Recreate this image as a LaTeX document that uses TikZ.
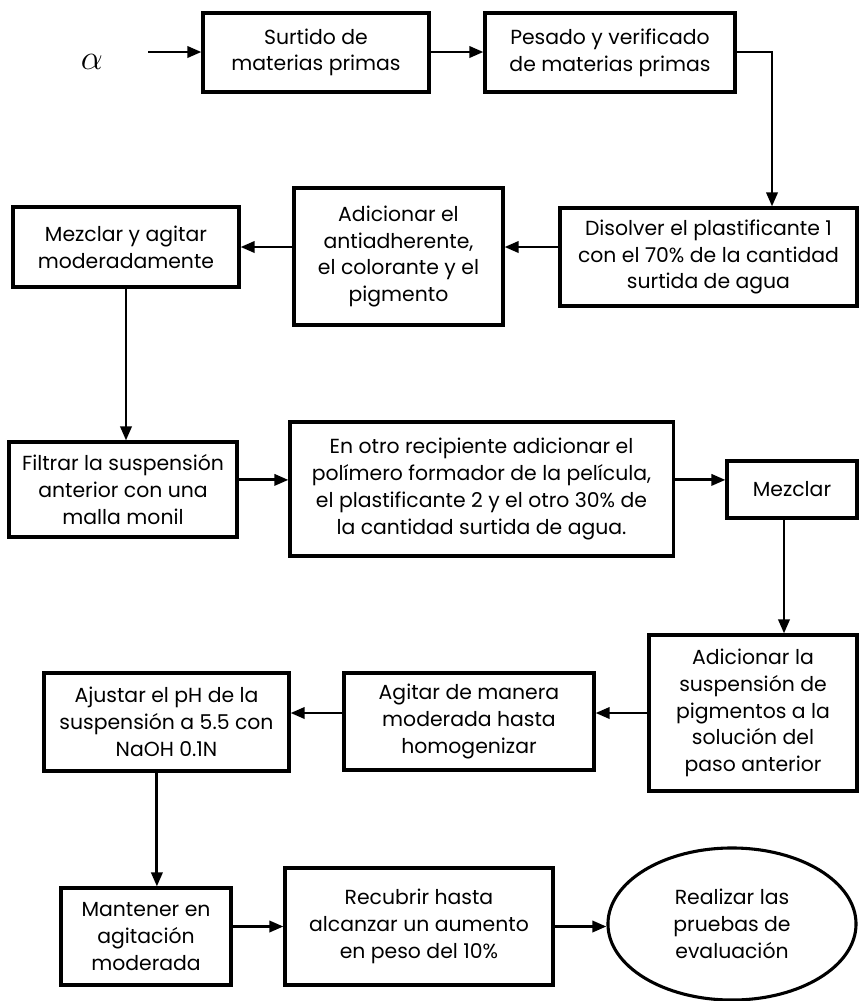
\documentclass[tikz,border=0pt]{standalone}
\usepackage{fontspec}
\setmainfont{Poppins}
\usetikzlibrary{arrows.meta,shapes.geometric}

\begin{document}
\begin{tikzpicture}[x=0.025cm,y=-0.025cm,
    box/.style={draw, line width=2.2pt, inner sep=0pt, align=center},
    flow/.style={-{Triangle[length=10pt,width=8pt]}, line width=2pt},
    font=\fontsize{14.5}{19}\selectfont]
            \useasboundingbox (0,0) rectangle (858,1001);
            % fila 1
            \node (alfa) at (92,62) {\fontsize{24}{24}\selectfont$\alpha$};
            \coordinate (entrada) at (148,52);
            \node [box, minimum width=5.65cm, minimum height=1.975cm] (surtido) at (316,52.5) {Surtido de\\materias primas};
            \node [box, minimum width=6.25cm, minimum height=1.975cm] (pesado) at (610,52.5) {Pesado y verificado\\de materias primas};
            % fila 2
            \node [box, minimum width=7.425cm, minimum height=2.45cm] (disolver) at (708.5,257) {Disolver el plastificante 1\\con el 70\% de la cantidad\\surtida de agua};
            \node [box, minimum width=5.225cm, minimum height=3.425cm] (adicionar) at (398.5,256.5) {Adicionar el\\antiadherente,\\el colorante y el\\pigmento};
            \node [box, minimum width=5.65cm, minimum height=2cm] (mezagitar) at (126,247) {Mezclar y agitar\\moderadamente};
            % fila 3
            \node [box, minimum width=5.7cm, minimum height=2.375cm] (filtrar) at (123,489.5) {Filtrar la suspensión\\anterior con una\\malla monil};
            \node [box, minimum width=9.575cm, minimum height=3.35cm] (recipiente) at (481.5,489) {En otro recipiente adicionar el\\polímero formador de la película,\\el plastificante 2 y el otro 30\% de\\la cantidad surtida de agua.};
            \node [box, minimum width=3.25cm, minimum height=1.425cm] (mezclar) at (792,489.5) {Mezclar};
            % fila 4
            \node [box, minimum width=5.2cm, minimum height=3.9cm] (suspension) at (753,713) {Adicionar la\\suspensión de\\pigmentos a la\\solución del\\paso anterior};
            \node [box, minimum width=6.25cm, minimum height=2.425cm] (agitar) at (469,721.5) {Agitar de manera\\moderada hasta\\homogenizar};
            \node [box, minimum width=6.125cm, minimum height=2.45cm] (ajustar) at (166.5,722) {Ajustar el pH de la\\suspensión a 5.5 con\\NaOH 0.1N};
            % fila 5
            \node [box, minimum width=4.25cm, minimum height=2.425cm] (mantener) at (146,936.5) {Mantener en\\agitación\\moderada};
            \node [box, minimum width=6.7cm, minimum height=2.925cm] (recubrir) at (419,926.5) {Recubrir hasta\\alcanzar un aumento\\en peso del 10\%};
            \node [box, ellipse, minimum width=6.2cm, minimum height=3.8cm] (pruebas) at (732,924) {Realizar las\\pruebas de\\evaluación};
            % flechas
            \draw [flow] (entrada) -- (surtido.west |- entrada);
            \draw [flow] (surtido.east |- entrada) -- (pesado.west |- entrada);
            \draw [flow] (pesado.east |- entrada) -| ([xshift=1.5875cm]disolver.north);
            \draw [flow] (disolver.west |- mezagitar.east) -- (adicionar.east |- mezagitar.east);
            \draw [flow] (adicionar.west |- mezagitar.east) -- (mezagitar.east);
            \draw [flow] (mezagitar.south) -- (mezagitar.south |- filtrar.north);
            \draw [flow] ([yshift=0.24cm]filtrar.east) -- ([yshift=0.24cm]filtrar.east -| recipiente.west);
            \draw [flow] ([yshift=0.24cm]filtrar.east -| recipiente.east) -- ([yshift=0.24cm]filtrar.east -| mezclar.west);
            \draw [flow] ([xshift=-0.2cm]mezclar.south) -- ([xshift=-0.2cm]mezclar.south |- suspension.north);
            \draw [flow] (suspension.west) -- (agitar.east |- suspension.west);
            \draw [flow] (agitar.west |- suspension.west) -- (ajustar.east |- suspension.west);
            \draw [flow] ([xshift=-0.24cm]ajustar.south) -- ([xshift=-0.24cm]ajustar.south |- mantener.north);
            \draw [flow] (mantener.east |- recubrir.west) -- (recubrir.west);
            \draw [flow] (recubrir.east) -- (pruebas.west |- recubrir.east);
        \end{tikzpicture}
\end{document}
